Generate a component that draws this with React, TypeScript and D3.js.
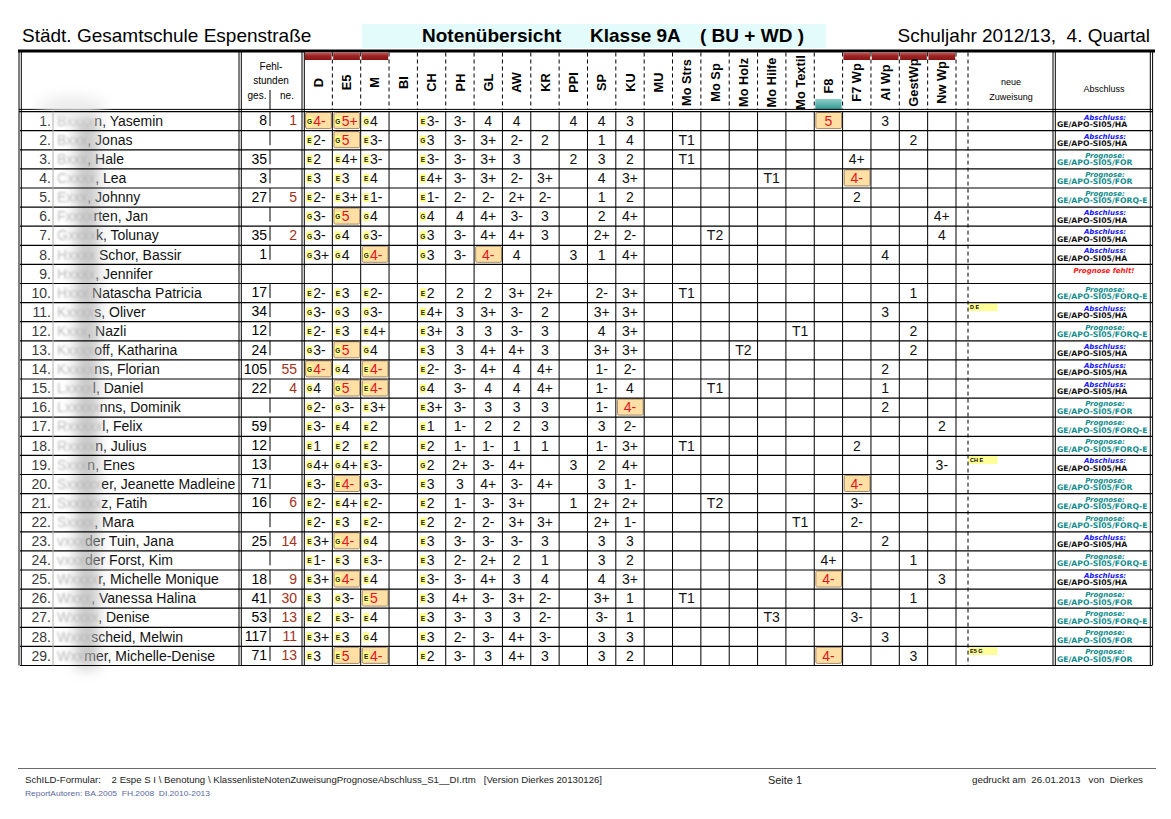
import React from "react";
import * as d3 from "d3";

// Spalten (Fächer) im Kopf, von links nach rechts
const subjects = ["D", "E5", "M", "BI", "CH", "PH", "GL", "AW", "KR", "PPI", "SP", "KU", "MU", "Mo Strs", "Mo Sp", "Mo Holz", "Mo Hilfe", "Mo Textil", "F8", "F7 Wp", "AI Wp", "GestWp", "Nw Wp"];
const redBarSubjects = ["D", "E5", "M", "F7 Wp", "AI Wp", "GestWp", "Nw Wp"];
const tealBarSubjects = ["F8"];
const badGrades = ["4-", "5+", "5", "5-", "6"];

// Namen: [Anfangsbuchstabe, Anzahl verwischter Zeichen, sichtbarer Rest]
const names: [string, number, string][] = [
  ["B", 4, "n, Yasemin"], ["B", 3, ", Jonas"], ["B", 3, ", Hale"], ["C", 4, ", Lea"],
  ["E", 3, ", Johnny"], ["F", 4, "rten, Jan"], ["G", 4, "k, Tolunay"], ["H", 4, " Schor, Bassir"],
  ["H", 4, ", Jennifer"], ["H", 3, " Natascha Patricia"], ["K", 4, "s, Oliver"], ["K", 3, ", Nazli"],
  ["K", 4, "off, Katharina"], ["K", 4, "ns, Florian"], ["L", 4, "l, Daniel"], ["L", 5, "nns, Dominik"],
  ["R", 5, "l, Felix"], ["R", 4, "n, Julius"], ["S", 3, "n, Enes"], ["S", 5, "er, Jeanette Madleine"],
  ["S", 5, "z, Fatih"], ["S", 4, ", Mara"], ["v", 3, "der Tuin, Jana"], ["v", 3, "der Forst, Kim"],
  ["W", 4, "r, Michelle Monique"], ["W", 3, ", Vanessa Halina"], ["W", 4, ", Denise"], ["W", 3, "scheid, Melwin"],
  ["W", 2, "mer, Michelle-Denise"],
];

const fehlGes = ["8", "", "35", "3", "27", "", "35", "1", "", "17", "34", "12", "24", "105", "22", "", "59", "12", "13", "71", "16", "", "25", "", "18", "41", "53", "117", "71"];
const fehlNe = ["1", "", "", "", "5", "", "2", "", "", "", "", "", "", "55", "4", "", "", "", "", "", "6", "", "14", "", "9", "30", "13", "11", "13"];

// D | E5 | M | BI | CH | PH | GL | AW | KR | PPI | SP | KU   (E/G = Kursniveau)
const mainGrades = [
  "G4-|G5+|G4||E3-|3-|4|4||4|4|3",
  "E2-|G5|E3-||G3|3-|3+|2-|2||1|4",
  "E2|E4+|E3-||E3-|3-|3+|3||2|3|2",
  "E3|E3|E4||E4+|3-|3+|2-|3+||4|3+",
  "E2-|E3+|E1-||E1-|2-|2-|2+|2-||1|2",
  "G3-|G5|G4||G4|4|4+|3-|3||2|4+",
  "G3-|G4|G3-||G3|3-|4+|4+|3||2+|2-",
  "G3+|G4|G4-||G3|3-|4-|4||3|1|4+",
  "|||||||||||",
  "E2-|E3|E2-||E2|2|2|3+|2+||2-|3+",
  "G3-|G3|G3-||E4+|3|3+|3-|2||3+|3+",
  "E2-|E3|E4+||E3+|3|3|3-|3||4|3+",
  "G3-|G5|G4||E3|3|4+|4+|3||3+|3+",
  "G4-|G4|E4-||E2-|3-|4+|4|4+||1-|2-",
  "G4|G5|E4-||G4|3-|4|4|4+||1-|4",
  "G2-|G3-|E3+||E3+|3-|3|3|3||1-|4-",
  "E3-|E4|E2||E1|1-|2|2|3||3|2-",
  "E1|E2|E2||E2|1-|1-|1|1||1-|3+",
  "G4+|G4+|E3-||G2|2+|3-|4+||3|2|4+",
  "E3-|E4-|G3-||E3|3|4+|3-|4+||3|1-",
  "E2-|E4+|E2-||E2|1-|3-|3+||1|2+|2+",
  "E2-|E3|E2-||E2|2-|2-|3+|3+||2+|1-",
  "E3+|G4-|G4||E3|3-|3-|3-|3||3|3",
  "E1-|E3|E3-||E3|2-|2+|2|1||3|2",
  "E3+|G4-|E4||E3-|3-|4+|3|4||4|3+",
  "E3|G3-|E5||E3|4+|3-|3+|2-||3+|1",
  "E2|E3-|E4||E3|3-|3|3|2-||3-|1",
  "E3+|E3|G4||E3|2-|3-|4+|3-||3|3",
  "E3|E5|E4-||E2|3-|3|4+|3||3|2",
];

// übrige Fächer, nur belegte Zellen
const extraGrades: Record<string, string>[] = [
  { "F8": "5", "AI Wp": "3" }, { "Mo Strs": "T1", "GestWp": "2" }, { "Mo Strs": "T1", "F7 Wp": "4+" },
  { "Mo Hilfe": "T1", "F7 Wp": "4-" }, { "F7 Wp": "2" }, { "Nw Wp": "4+" }, { "Mo Sp": "T2", "Nw Wp": "4" },
  { "AI Wp": "4" }, {}, { "Mo Strs": "T1", "GestWp": "1" }, { "AI Wp": "3" },
  { "Mo Textil": "T1", "GestWp": "2" }, { "Mo Holz": "T2", "GestWp": "2" }, { "AI Wp": "2" },
  { "Mo Sp": "T1", "AI Wp": "1" }, { "AI Wp": "2" }, { "Nw Wp": "2" }, { "Mo Strs": "T1", "F7 Wp": "2" },
  { "Nw Wp": "3-" }, { "F7 Wp": "4-" }, { "Mo Sp": "T2", "F7 Wp": "3-" }, { "Mo Textil": "T1", "F7 Wp": "2-" },
  { "AI Wp": "2" }, { "F8": "4+", "GestWp": "1" }, { "F8": "4-", "Nw Wp": "3" }, { "Mo Strs": "T1", "GestWp": "1" },
  { "Mo Hilfe": "T3", "F7 Wp": "3-" }, { "AI Wp": "3" }, { "F8": "4-", "GestWp": "3" },
];

const zuweisung: Record<number, string> = { 10: "D E", 18: "CH E", 28: "E5 G" };

// A = Abschluss, P = Prognose, X = Prognose fehlt
const abschlussKind = ["A", "A", "P", "P", "P", "A", "A", "A", "X", "P", "A", "P", "A", "A", "A", "P", "P", "P", "A", "P", "P", "P", "A", "P", "A", "P", "P", "P", "P"];
const abschlussValue = ["HA", "HA", "FOR", "FOR", "FORQ-E", "HA", "HA", "HA", "", "FORQ-E", "HA", "FORQ-E", "HA", "HA", "HA", "FOR", "FORQ-E", "FORQ-E", "HA", "FOR", "FORQ-E", "FORQ-E", "HA", "FORQ-E", "HA", "FOR", "FORQ-E", "FOR", "FOR"];

const FONT = "'Liberation Sans', Arial, Helvetica, sans-serif";
const VFONT = "'DejaVu Sans', Verdana, sans-serif";

const Grade = ({ x0, w, top, h, value }: { x0: number; w: number; top: number; h: number; value: string }) => {
  if (!value) return null;
  const m = /^([EG])(.+)$/.exec(value);
  const marker = m ? m[1] : null;
  const g = m ? m[2] : value;
  const bad = badGrades.includes(g);
  return (
    <g>
      {bad && <rect x={x0 + 1.6} y={top + 0.9} width={w - 2.6} height={h - 3} rx={1.5} fill="#ffdfa4" stroke="#a48b68" strokeWidth={1} />}
      {marker && (
        <g>
          <rect x={x0 + 2.5} y={top + 5} width={6} height={9} fill="#ffff80" />
          <text x={x0 + 5.5} y={top + 12.3} fontSize={6.5} fontWeight="bold" textAnchor="middle" fill="#222">{marker}</text>
        </g>
      )}
      <text x={marker ? x0 + 9.3 : x0 + w / 2} y={top + 14.2} fontSize={14} textAnchor={marker ? "start" : "middle"} fill={bad ? "#e4141b" : "#111"}>{g}</text>
    </g>
  );
};

export default function App() {
  const headTop = 51;
  const headBottom = 111.6;
  const x = d3.scaleBand<string>().domain(subjects).range([304, 956]);
  const y = d3.scaleBand<number>().domain(d3.range(names.length)).range([headBottom, 665.5]);
  const bw = x.bandwidth();
  const rh = y.bandwidth();
  const tableBottom = 665.5;
  const boundaries = subjects.map(s => x(s)!).slice(1);

  const dbl = (xx: number, y1: number, y2: number, key: string) => (
    <g key={key}>
      <line x1={xx} x2={xx} y1={y1} y2={y2} stroke="#000" strokeWidth={1} />
      <line x1={xx + 2.3} x2={xx + 2.3} y1={y1} y2={y2} stroke="#000" strokeWidth={1} />
    </g>
  );

  return (
    <svg width={1171} height={819} style={{ position: "absolute", left: 0, top: 0, background: "#fff" }} fontFamily={FONT}>
      <defs>
        <linearGradient id="redbar" x1="0" y1="0" x2="0" y2="1">
          <stop offset="0" stopColor="#c45a5a" />
          <stop offset="0.45" stopColor="#9c2424" />
          <stop offset="1" stopColor="#8a1414" />
        </linearGradient>
        <linearGradient id="tealbar" x1="0" y1="0" x2="0" y2="1">
          <stop offset="0" stopColor="#8fd0cb" />
          <stop offset="1" stopColor="#2f9990" />
        </linearGradient>
        <filter id="smudge" x="-100%" y="-10%" width="300%" height="120%">
          <feGaussianBlur stdDeviation="7" />
        </filter>
        <filter id="soft" x="-10%" y="-50%" width="120%" height="200%">
          <feGaussianBlur stdDeviation="1.3" />
        </filter>
      </defs>

      {/* Titelzeile */}
      <text x={22} y={42} fontSize={19}>Städt. Gesamtschule Espenstraße</text>
      <rect x={362} y={24} width={464} height={24} fill="#e4fbfb" />
      <text x={422} y={42} fontSize={19} fontWeight="bold">Notenübersicht</text>
      <text x={590} y={42} fontSize={19} fontWeight="bold">Klasse 9A</text>
      <text x={700} y={42} fontSize={19} fontWeight="bold">( BU + WD )</text>
      <text x={1150} y={42} fontSize={19} textAnchor="end" style={{ whiteSpace: "pre" }}>{"Schuljahr 2012/13,  4. Quartal"}</text>

      {/* Kopf */}
      <rect x={18} y={49.5} width={1137} height={3} fill="#000" />
      {redBarSubjects.map(s => (
        <rect key={"rb" + s} x={x(s)! + 0.8} y={headTop + 1.5} width={bw - 1.6} height={7.5} fill="url(#redbar)" />
      ))}
      {tealBarSubjects.map(s => (
        <rect key={"tb" + s} x={x(s)! + 1} y={99} width={bw - 2} height={10.4} fill="url(#tealbar)" />
      ))}
      {subjects.map(s => (
        <text key={"h" + s} transform={`translate(${x(s)! + bw / 2 + 4.6},${s === "F8" ? 86 : 82.5}) rotate(-90)`} fontSize={12.8} fontWeight="bold" textAnchor="middle">{s}</text>
      ))}
      {[...boundaries, 956, 968].map(b => (
        <line key={"hd" + b} x1={b} x2={b} y1={headTop + 1.5} y2={109.4} stroke="#000" strokeWidth={1} strokeDasharray="4,3" />
      ))}
      <text x={271} y={70} fontSize={10} textAnchor="middle">Fehl-</text>
      <text x={271} y={84} fontSize={10} textAnchor="middle">stunden</text>
      <text x={257} y={99} fontSize={10} textAnchor="middle">ges.</text>
      <text x={287} y={99} fontSize={10} textAnchor="middle">ne.</text>
      <line x1={270} x2={270} y1={90} y2={109.4} stroke="#000" strokeWidth={1} />
      <text x={1011} y={85} fontSize={9} textAnchor="middle">neue</text>
      <text x={1011} y={100} fontSize={9} textAnchor="middle">Zuweisung</text>
      <text x={1104} y={92} fontSize={9} textAnchor="middle">Abschluss</text>
      <line x1={19} x2={1153} y1={109.4} y2={109.4} stroke="#000" strokeWidth={1} />

      {/* Namen */}
      {names.map(([ini, n, rest], i) => {
        const top = y(i)!;
        return (
          <g key={"n" + i}>
            <text x={51} y={top + 14.2} fontSize={14} textAnchor="end" fill="#3a3a3a">{i + 1}.</text>
            <text x={57} y={top + 14.2} fontSize={14} filter="url(#soft)" style={{ whiteSpace: "pre" }}>
              <tspan fill="#bcbcbc">{ini}</tspan>
              <tspan fill="#c4c4c4">{"x".repeat(n)}</tspan>
              <tspan fill="none">{rest}</tspan>
            </text>
            <text x={57} y={top + 14.2} fontSize={14} style={{ whiteSpace: "pre" }}>
              <tspan fill="none">{ini}</tspan>
              <tspan fill="none">{"x".repeat(n)}</tspan>
              <tspan fill="#111">{rest}</tspan>
            </text>
          </g>
        );
      })}
      {/* Unschärfe über den Nachnamen */}
      <g filter="url(#smudge)" opacity={0.75}>
        <rect x={76} y={112} width={22} height={556} fill="#b3b3b3" />
        <ellipse cx={72} cy={108} rx={34} ry={12} fill="#e6e6e6" />
      </g>

      {/* Fehlstunden */}
      {fehlGes.map((v, i) => (
        <text key={"fg" + i} x={267} y={y(i)! + 13.7} fontSize={14} textAnchor="end">{v}</text>
      ))}
      {fehlNe.map((v, i) => (
        <text key={"fn" + i} x={297} y={y(i)! + 13.7} fontSize={14} textAnchor="end" fill="#a3311c">{v}</text>
      ))}
      {names.map((_, i) => i === 8 ? null : (
        <line key={"fs" + i} x1={270} x2={270} y1={y(i)!} y2={y(i)! + 14.5} stroke="#000" strokeWidth={1} />
      ))}

      {/* Noten */}
      {mainGrades.map((row, i) => row.split("|").map((v, j) => (
        <Grade key={`m${i}-${j}`} x0={x(subjects[j])!} w={bw} top={y(i)!} h={rh} value={v} />
      )))}
      {extraGrades.map((row, i) => Object.entries(row).map(([s, v]) => (
        <Grade key={`e${i}-${s}`} x0={x(s)!} w={bw} top={y(i)!} h={rh} value={v} />
      )))}

      {/* neue Zuweisung */}
      {Object.entries(zuweisung).map(([k, v]) => {
        const top = y(+k)!;
        return (
          <g key={"z" + k}>
            <rect x={968.5} y={top + 0.6} width={29} height={8} fill="#ffff99" />
            <text x={970} y={top + 6.8} fontSize={5.5} fontWeight="bold">{v}</text>
          </g>
        );
      })}

      {/* Abschluss */}
      {abschlussKind.map((k, i) => {
        const top = y(i)!;
        if (k === "X") {
          return <text key={"a" + i} x={1104} y={top + 8.8} fontSize={7} fontFamily={VFONT} fontWeight="bold" fontStyle="italic" textAnchor="middle" fill="#ff1414">Prognose fehlt!</text>;
        }
        const col = k === "A" ? "#1616ff" : "#138c8c";
        return (
          <g key={"a" + i} fontFamily={VFONT} fontWeight="bold">
            <text x={1105} y={top + 8} fontSize={7} fontStyle="italic" textAnchor="middle" fill={col}>{k === "A" ? "Abschluss:" : "Prognose:"}</text>
            <text x={1057} y={top + 15.4} fontSize={7.7} fill={k === "A" ? "#111" : "#138c8c"}>{"GE/APO-SI05/" + abschlussValue[i]}</text>
          </g>
        );
      })}

      {/* Linien des Tabellenkörpers */}
      {names.map((_, i) => (
        <line key={"r" + i} x1={20} x2={1152} y1={y(i)! + rh} y2={y(i)! + rh} stroke="#000" strokeWidth={1.2} />
      ))}
      <line x1={19} x2={1153} y1={headBottom} y2={headBottom} stroke="#000" strokeWidth={1.2} />
      {[...boundaries, 956].map(b => (
        <line key={"bv" + b} x1={b} x2={b} y1={headBottom} y2={tableBottom} stroke="#000" strokeWidth={1} />
      ))}
      <line x1={968} x2={968} y1={headBottom} y2={tableBottom} stroke="#000" strokeWidth={1} strokeDasharray="4,3" />
      <line x1={53} x2={53} y1={headBottom} y2={tableBottom} stroke="#b0b0b0" strokeWidth={1} />
      {dbl(19, 52, tableBottom, "L")}
      {dbl(239, 52, tableBottom, "N")}
      {dbl(302, 52, tableBottom, "F")}
      {dbl(1053, 52, tableBottom, "Z")}
      {dbl(1150.3, 52, tableBottom, "R")}

      {/* Fußzeile */}
      <line x1={18} x2={1156} y1={768.5} y2={768.5} stroke="#444" strokeWidth={0.8} />
      <text x={25} y={783} fontSize={9} textLength={577} lengthAdjust="spacingAndGlyphs" fill="#222" style={{ whiteSpace: "pre" }}>{"SchILD-Formular:    2 Espe S I \\ Benotung \\ KlassenlisteNotenZuweisungPrognoseAbschluss_S1__DI.rtm   [Version Dierkes 20130126]"}</text>
      <text x={768} y={784} fontSize={11} textLength={34} lengthAdjust="spacingAndGlyphs" fill="#222">Seite 1</text>
      <text x={1143} y={783} fontSize={9} textAnchor="end" textLength={171} lengthAdjust="spacingAndGlyphs" fill="#222" style={{ whiteSpace: "pre" }}>{"gedruckt am  26.01.2013   von  Dierkes"}</text>
      <text x={25} y={796} fontSize={8} textLength={185} lengthAdjust="spacingAndGlyphs" fill="#5a68a0" style={{ whiteSpace: "pre" }}>{"ReportAutoren: BA.2005  FH.2008  DI.2010-2013"}</text>
    </svg>
  );
}
